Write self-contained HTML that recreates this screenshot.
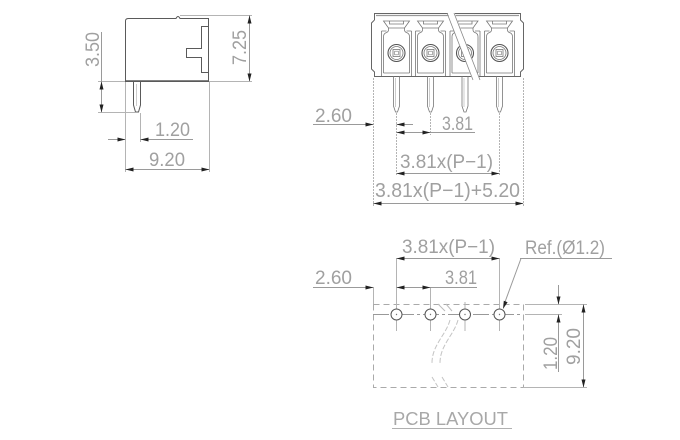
<!DOCTYPE html>
<html>
<head>
<meta charset="utf-8">
<style>
  html,body{margin:0;padding:0;background:#fff;}
  svg{display:block;}
  .t{font-family:"Liberation Sans",sans-serif;font-size:19px;fill:#a0a0a0;}
  .g{stroke:#5a5a5a;stroke-width:1;fill:none;}
  .c{stroke:#777;stroke-width:0.8;fill:none;}
  .d{stroke:#9a9a9a;stroke-width:1;fill:none;}
  .e{stroke:#b4b4b4;stroke-width:1;fill:none;}
  .a{fill:#222;stroke:none;}
</style>
</head>
<body>
<svg width="680" height="440" viewBox="0 0 680 440" xmlns="http://www.w3.org/2000/svg">
  <defs>
    <g id="cell">
      <path class="c" d="M-13,21 H13 L8,28 H-8 Z"/>
      <path class="c" d="M-7,21 V24 H7 V21"/>
      <path class="c" d="M-8,28 V30 Q-8,32 -11,33 Q-13,34 -13,37 V73"/>
      <path class="c" d="M8,28 V30 Q8,32 11,33 Q13,34 13,37 V73"/>
      <path class="c" d="M-15,31 H-10 M10,31 H15 M-15,31 V76 M15,31 V76 M-13,73 H13"/>
      <circle class="c" cx="0" cy="53" r="8.5" style="stroke:#555;stroke-width:1.1"/>
      <circle class="c" cx="0" cy="53" r="6.5"/>
      <rect class="c" x="-3.5" y="49.5" width="7" height="7"/>
      <rect class="c" x="-1.8" y="51.2" width="3.6" height="3.6" style="stroke-width:0.6"/>
    </g>
    <g id="pin">
      <path class="c" d="M-3,76 V106 L-1,112 H1 L3,106 V76"/>
      <path class="c" d="M-1,78 V107" style="stroke:#aaa;stroke-width:0.6"/>
    </g>
  </defs>

  <!-- ================= SIDE VIEW ================= -->
  <path class="g" d="M125.5,81.5 V21 Q125.5,18.5 128.5,18.5 H176 Q178,14.5 180,18.5 H208.5 V81.5 Z"/>
  <path class="g" d="M125.5,81 H208.5" style="stroke-width:1.4"/>
  <path class="g" d="M208.5,26.5 H201.5 V48.5 H186.5 V57.5 H201.5 V72.5 H208.5"/>
  <path class="g" d="M133.5,82 V105 L135.5,112 H138.5 L140.5,105 V82"/>
  <path class="g" d="M136.5,84 V106" style="stroke:#aaa;stroke-width:0.6"/>

  <!-- side ext lines -->
  <path class="e" d="M98,81.5 H125 M209,81.5 H252 M98,112.5 H135 M180,15.5 H252 M125.5,82 V172 M140.5,113 V142 M209.5,82 V172"/>
  <!-- side dim lines -->
  <path class="d" d="M101.5,32 V112 M249.5,15 V81 M108,139.5 H125 M140,139.5 H193 M125,169.5 H209"/>
  <polygon class="a" points="101.5,81.5 99.5,89.5 103.5,89.5"/>
  <polygon class="a" points="101.5,112.5 99.5,104.5 103.5,104.5"/>
  <polygon class="a" points="249.5,15.5 247.5,23.5 251.5,23.5"/>
  <polygon class="a" points="249.5,81.5 247.5,73.5 251.5,73.5"/>
  <polygon class="a" points="125.5,139.5 117.5,137.5 117.5,141.5"/>
  <polygon class="a" points="140.5,139.5 148.5,137.5 148.5,141.5"/>
  <polygon class="a" points="125.5,169.5 133.5,167.5 133.5,171.5"/>
  <polygon class="a" points="209.5,169.5 201.5,167.5 201.5,171.5"/>
  <text class="t" transform="translate(99,67) rotate(-90)" textLength="35" lengthAdjust="spacingAndGlyphs">3.50</text>
  <text class="t" transform="translate(246,65) rotate(-90)" textLength="35" lengthAdjust="spacingAndGlyphs">7.25</text>
  <text class="t" x="155" y="136" textLength="35" lengthAdjust="spacingAndGlyphs">1.20</text>
  <text class="t" x="149" y="166" textLength="36" lengthAdjust="spacingAndGlyphs">9.20</text>

  <!-- ================= FRONT VIEW ================= -->
  <path class="g" d="M374.5,20 V13.5 H520.5 V20 L523.5,23 V69 L520.5,72 V76.5 H374.5 V72 L371.5,69 V23 L374.5,20" style="stroke:#666"/>
  <path d="M376,15.5 H519" stroke="#999" stroke-width="1.2" fill="none"/>
  <use href="#cell" x="396.5"/>
  <use href="#cell" x="430.5"/>
  <use href="#cell" x="465"/>
  <use href="#cell" x="499.5"/>
  <use href="#pin" x="396.5"/>
  <use href="#pin" x="430.5"/>
  <use href="#pin" x="465"/>
  <use href="#pin" x="499.5"/>
  <!-- break -->
  <polygon points="447,11 454,11 481,82 473,82" fill="#fff"/>
  <path d="M447,13 L473,80 M454,13 L480,80" stroke="#888" stroke-width="0.8" fill="none"/>

  <!-- front ext lines -->
  <path class="e" d="M373.5,78 V206 M523.5,78 V206 M396.5,113 V176 M430.5,113 V135 M499.5,113 V176" style="stroke-dasharray:2 1"/>
  <!-- front dims -->
  <path class="d" d="M313,124.5 H373 M396.5,124.5 H413 M396.5,132.5 H475 M396.5,173.5 H499.5 M373,203.5 H523"/>
  <polygon class="a" points="373.5,124.5 365.5,122.5 365.5,126.5"/>
  <polygon class="a" points="396.5,124.5 404.5,122.5 404.5,126.5"/>
  <polygon class="a" points="396.5,132.5 404.5,130.5 404.5,134.5"/>
  <polygon class="a" points="430.5,132.5 422.5,130.5 422.5,134.5"/>
  <polygon class="a" points="396.5,173.5 404.5,171.5 404.5,175.5"/>
  <polygon class="a" points="499.5,173.5 491.5,171.5 491.5,175.5"/>
  <polygon class="a" points="373.5,203.5 381.5,201.5 381.5,205.5"/>
  <polygon class="a" points="523.5,203.5 515.5,201.5 515.5,205.5"/>
  <text class="t" x="315" y="122" textLength="37" lengthAdjust="spacingAndGlyphs">2.60</text>
  <text class="t" x="442" y="130" textLength="31" lengthAdjust="spacingAndGlyphs">3.81</text>
  <text class="t" x="400" y="168" textLength="93" lengthAdjust="spacingAndGlyphs">3.81x(P−1)</text>
  <text class="t" x="375" y="197" textLength="145" lengthAdjust="spacingAndGlyphs" style="font-size:20px">3.81x(P−1)+5.20</text>

  <!-- ================= PCB LAYOUT ================= -->
  <rect x="373.5" y="304.5" width="150" height="83" fill="none" stroke="#aaa" stroke-width="1" stroke-dasharray="6 4"/>
  <path d="M373,314.5 H523" stroke="#999" stroke-width="1" stroke-dasharray="16 3 3 3" fill="none"/>
  <!-- center marks -->
  <path class="e" d="M396.5,258 V331 M430.5,287 V331 M465,302 V331 M499.5,258 V331 M373.5,287 V304"/>
  <circle cx="396.5" cy="314.5" r="5.5" fill="#fff" stroke="#555"/>
  <circle cx="430.5" cy="314.5" r="5.5" fill="#fff" stroke="#555"/>
  <circle cx="465" cy="314.5" r="5.5" fill="#fff" stroke="#555"/>
  <circle cx="499.5" cy="314.5" r="5.5" fill="#fff" stroke="#555"/>
  <circle cx="396.5" cy="314.5" r="0.7" fill="#777"/>
  <circle cx="430.5" cy="314.5" r="0.7" fill="#777"/>
  <circle cx="465" cy="314.5" r="0.7" fill="#777"/>
  <circle cx="499.5" cy="314.5" r="0.7" fill="#777"/>
  <!-- break curves -->
  <path d="M438,304 L445,311 M446,304 L452,311" stroke="#bbb" fill="none"/>
  <path d="M450,320 C446,335 432,345 432,363 M458,320 C454,335 440,345 440,363 M432,377 L438,387 M442,377 L448,387" stroke="#c4c4c4" fill="none" stroke-dasharray="5 2"/>

  <!-- pcb dims -->
  <path class="d" d="M396.5,258.5 H499.5 M520,258.5 H612 M521,258.5 L505,302 M313,287.5 H373 M396.5,287.5 H477"/>
  <polygon class="a" points="396.5,258.5 404.5,256.5 404.5,260.5"/>
  <polygon class="a" points="499.5,258.5 491.5,256.5 491.5,260.5"/>
  <polygon class="a" points="373.5,287.5 365.5,285.5 365.5,289.5"/>
  <polygon class="a" points="396.5,287.5 404.5,285.5 404.5,289.5"/>
  <polygon class="a" points="430.5,287.5 422.5,285.5 422.5,289.5"/>
  <polygon class="a" points="503,309 507.6,302.2 503.8,300.8"/>
  <text class="t" x="402" y="253" textLength="93" lengthAdjust="spacingAndGlyphs">3.81x(P−1)</text>
  <text class="t" x="525" y="254" textLength="80" lengthAdjust="spacingAndGlyphs">Ref.(Ø1.2)</text>
  <text class="t" x="315" y="284" textLength="37" lengthAdjust="spacingAndGlyphs">2.60</text>
  <text class="t" x="445" y="284" textLength="32" lengthAdjust="spacingAndGlyphs">3.81</text>

  <!-- right vertical dims -->
  <path class="e" d="M525,304.5 H587 M525,314.5 H562 M523,387.5 H587"/>
  <path class="d" d="M558.5,285 V304 M558.5,314 V372 M583.5,304 V387"/>
  <polygon class="a" points="558.5,304.5 556.5,296.5 560.5,296.5"/>
  <polygon class="a" points="558.5,314.5 556.5,322.5 560.5,322.5"/>
  <polygon class="a" points="583.5,304.5 581.5,312.5 585.5,312.5"/>
  <polygon class="a" points="583.5,387.5 581.5,379.5 585.5,379.5"/>
  <text class="t" transform="translate(557,370) rotate(-90)" textLength="33" lengthAdjust="spacingAndGlyphs">1.20</text>
  <text class="t" transform="translate(580,365) rotate(-90)" textLength="37" lengthAdjust="spacingAndGlyphs">9.20</text>

  <!-- PCB LAYOUT label -->
  <text class="t" x="393" y="425" textLength="115" lengthAdjust="spacingAndGlyphs" style="fill:#a8a8a8;font-size:18px">PCB LAYOUT</text>
  <path d="M392,428.5 H512" stroke="#b0b0b0" fill="none"/>
</svg>
</body>
</html>
